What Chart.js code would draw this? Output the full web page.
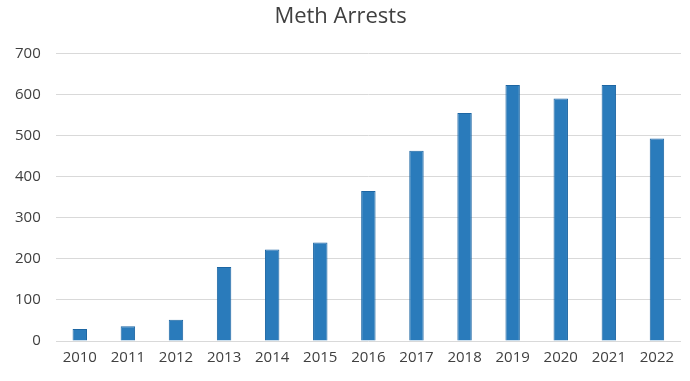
<!DOCTYPE html>
<html>
<head>
<meta charset="utf-8">
<script src="https://cdn.jsdelivr.net/npm/chart.js@4"></script>
<style>
  html, body { margin: 0; padding: 0; background: #fff; }
  #wrap { width: 690px; height: 381px; }
</style>
</head>
<body>
<div id="wrap"><canvas id="methChart"></canvas></div>
<script>
const years = ['2010', '2011', '2012', '2013', '2014', '2015', '2016', '2017', '2018', '2019', '2020', '2021', '2022'];
const arrests = [29, 36, 52, 180, 223, 240, 365, 463, 555, 623, 590, 623, 493];
const yTicks = [0, 100, 200, 300, 400, 500, 600, 700];

const ctx = document.getElementById('methChart').getContext('2d');

new Chart(ctx, {
  type: 'bar',
  data: {
    labels: years,
    datasets: [{
      label: 'Meth Arrests',
      data: arrests,
      backgroundColor: '#2a7bbb',
      borderColor: '#1d66a3',
      borderWidth: 1,
      barPercentage: 0.6,
      categoryPercentage: 0.5
    }]
  },
  options: {
    responsive: true,
    maintainAspectRatio: false,
    animation: false,
    layout: { padding: { left: 0, right: 9, top: 4, bottom: 14 } },
    scales: {
      x: {
        grid: { display: false },
        border: { display: false },
        ticks: { color: '#404040', font: { family: 'Open Sans', size: 15 }, padding: 0 }
      },
      y: {
        min: 0,
        max: 700,
        afterBuildTicks: axis => { axis.ticks = yTicks.map(v => ({ value: v })); },
        grid: { color: '#d9d9d9', lineWidth: 1, drawTicks: false },
        border: { display: false },
        ticks: { color: '#404040', font: { family: 'Open Sans', size: 15 }, padding: 15 }
      }
    },
    plugins: {
      legend: { display: false },
      tooltip: { enabled: false },
      title: {
        display: true,
        text: 'Meth Arrests',
        color: '#404040',
        font: { family: 'Open Sans', size: 22, weight: 'normal' },
        padding: { top: 0, bottom: 23 }
      }
    }
  }
});
</script>
</body>
</html>
